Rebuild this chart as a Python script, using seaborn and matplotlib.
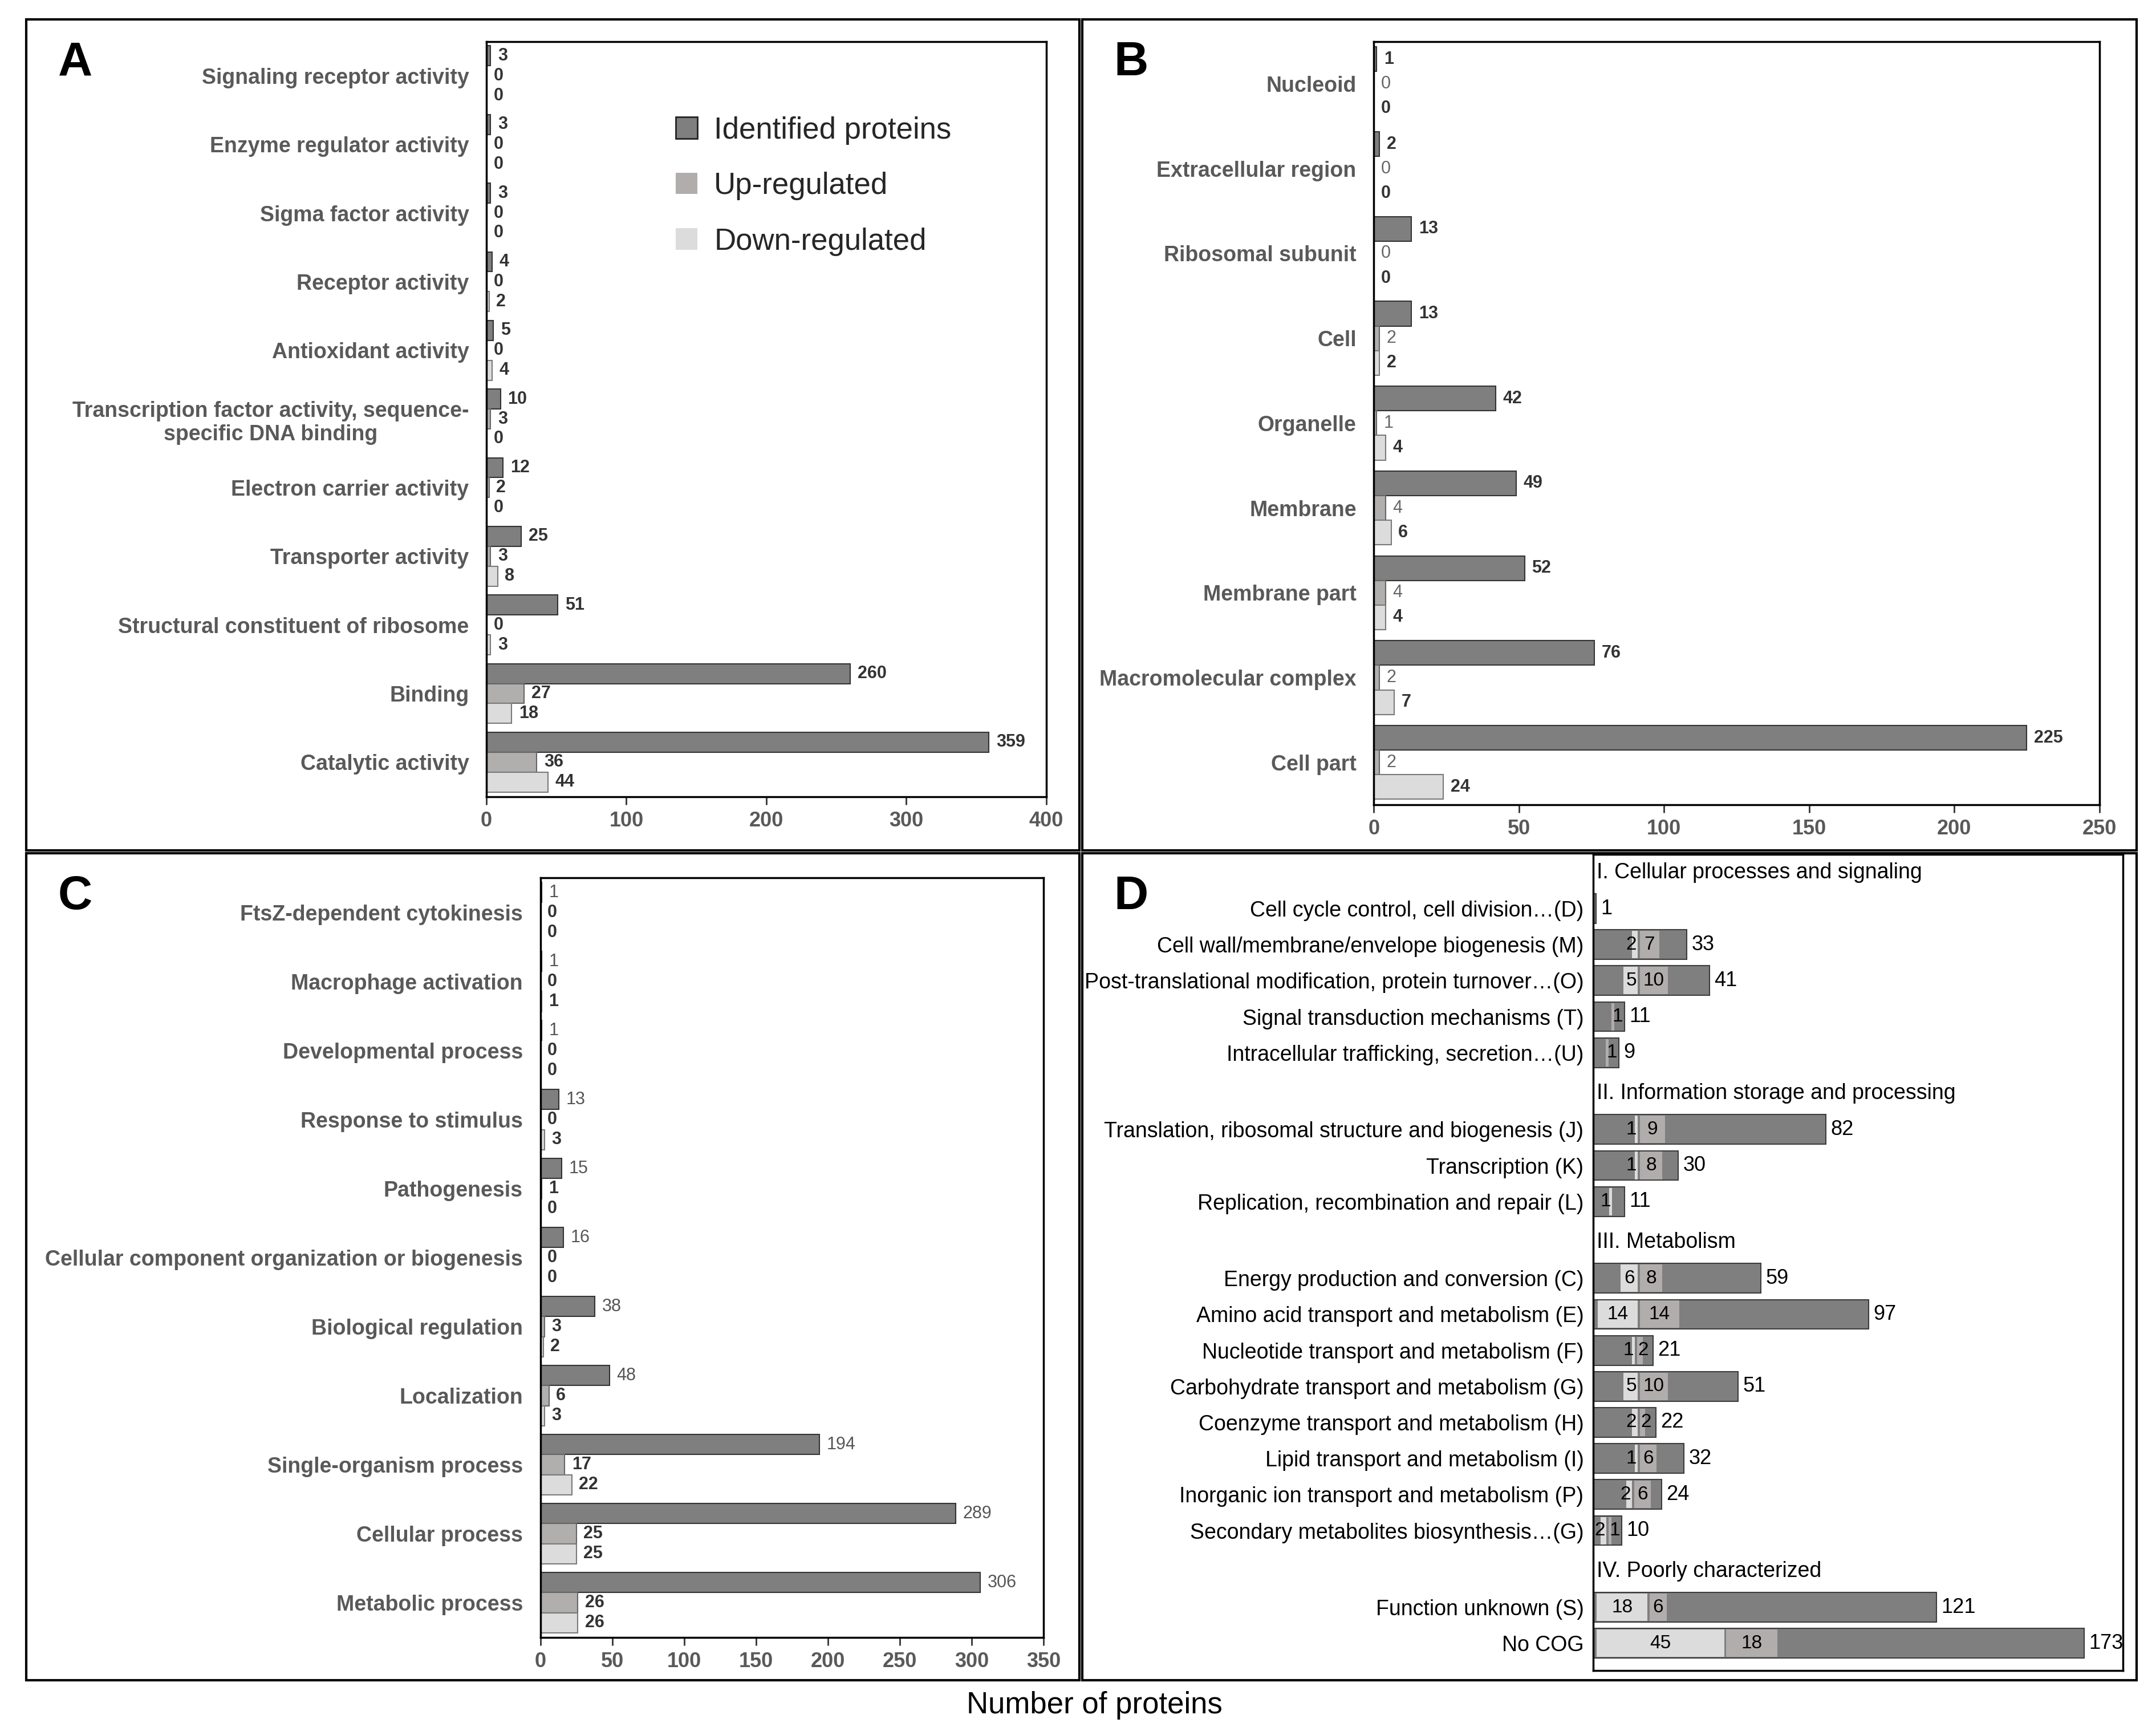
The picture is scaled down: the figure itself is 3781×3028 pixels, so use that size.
import matplotlib
matplotlib.use('Agg')
import matplotlib.pyplot as plt
from matplotlib import font_manager
from matplotlib.patches import Patch, Rectangle
import numpy as np
import pandas as pd
import seaborn as sns

# ---- data ----
SERIES = ['Identified proteins', 'Up-regulated', 'Down-regulated']

cats_A = ['Signaling receptor activity', 'Enzyme regulator activity', 'Sigma factor activity',
          'Receptor activity', 'Antioxidant activity',
          'Transcription factor activity, sequence-\nspecific DNA binding',
          'Electron carrier activity', 'Transporter activity',
          'Structural constituent of ribosome', 'Binding', 'Catalytic activity']
ident_A = [3, 3, 3, 4, 5, 10, 12, 25, 51, 260, 359]
up_A = [0, 0, 0, 0, 0, 3, 2, 3, 0, 27, 36]
down_A = [0, 0, 0, 2, 4, 0, 0, 8, 3, 18, 44]

cats_B = ['Nucleoid', 'Extracellular region', 'Ribosomal subunit', 'Cell', 'Organelle',
          'Membrane', 'Membrane part', 'Macromolecular complex', 'Cell part']
ident_B = [1, 2, 13, 13, 42, 49, 52, 76, 225]
up_B = [0, 0, 0, 2, 1, 4, 4, 2, 2]
down_B = [0, 0, 0, 2, 4, 6, 4, 7, 24]

cats_C = ['FtsZ-dependent cytokinesis', 'Macrophage activation', 'Developmental process',
          'Response to stimulus', 'Pathogenesis',
          'Cellular component organization or biogenesis', 'Biological regulation',
          'Localization', 'Single-organism process', 'Cellular process', 'Metabolic process']
ident_C = [1, 1, 1, 13, 15, 16, 38, 48, 194, 289, 306]
up_C = [0, 0, 0, 0, 1, 0, 3, 6, 17, 25, 26]
down_C = [0, 1, 0, 3, 0, 0, 2, 3, 22, 25, 26]

cog_headers = ['I. Cellular processes and signaling', 'II. Information storage and processing',
               'III. Metabolism', 'IV. Poorly characterized']
cog_labels = ['Cell cycle control, cell division\u2026(D)', 'Cell wall/membrane/envelope biogenesis (M)',
              'Post-translational modification, protein turnover\u2026(O)',
              'Signal transduction mechanisms (T)', 'Intracellular trafficking, secretion\u2026(U)',
              'Translation, ribosomal structure and biogenesis (J)', 'Transcription (K)',
              'Replication, recombination and repair (L)',
              'Energy production and conversion (C)', 'Amino acid transport and metabolism (E)',
              'Nucleotide transport and metabolism (F)', 'Carbohydrate transport and metabolism (G)',
              'Coenzyme transport and metabolism (H)', 'Lipid transport and metabolism (I)',
              'Inorganic ion transport and metabolism (P)', 'Secondary metabolites biosynthesis\u2026(G)',
              'Function unknown (S)', 'No COG']
cog_group = [0, 0, 0, 0, 0, 1, 1, 1, 2, 2, 2, 2, 2, 2, 2, 2, 3, 3]
cog_total = [1, 33, 41, 11, 9, 82, 30, 11, 59, 97, 21, 51, 22, 32, 24, 10, 121, 173]
cog_down = [0, 2, 5, 0, 0, 1, 1, 1, 6, 14, 1, 5, 2, 1, 2, 2, 18, 45]
cog_up = [0, 7, 10, 1, 1, 9, 8, 0, 8, 14, 2, 10, 2, 6, 6, 1, 6, 18]

# ---- style ----
PALETTE = {'Identified proteins': '#7f7f7f', 'Up-regulated': '#b2adad', 'Down-regulated': '#dcdcdc'}
EDGES = ['#333333', '#666666', '#7a7a7a']
LABEL_GRAY = '#595959'

sns.set_theme(style='white')
plt.rcParams['font.family'] = ['Liberation Sans', 'DejaVu Sans']
available = {f.name for f in font_manager.fontManager.ttflist}
if 'Liberation Sans Narrow' in available:
    narrow, k = ['Liberation Sans Narrow', 'DejaVu Sans'], 1.22
else:
    narrow, k = ['Liberation Sans', 'DejaVu Sans'], 1.0

fig = plt.figure(figsize=(37.81, 30.28), dpi=100)
axA = fig.add_axes([0.2256, 0.5388, 0.2597, 0.4372])
axB = fig.add_axes([0.6372, 0.5340, 0.3365, 0.4420])
axC = fig.add_axes([0.2506, 0.0520, 0.2334, 0.4396])
axD = fig.add_axes([0.7390, 0.0326, 0.2456, 0.4726])


def go_panel(ax, cats, ident, up, down, xmax, xstep, weights, lblcolors):
    df = pd.DataFrame({'category': cats, SERIES[0]: ident, SERIES[1]: up, SERIES[2]: down})
    long = df.melt(id_vars='category', var_name='series', value_name='count')
    sns.barplot(data=long, y='category', x='count', hue='series', hue_order=SERIES,
                order=cats, orient='h', palette=PALETTE, width=0.87, errorbar=None,
                legend=False, ax=ax)
    for cont, ec, fw, fc in zip(ax.containers, EDGES, weights, lblcolors):
        for bar in cont:
            bar.set_edgecolor(ec)
            bar.set_linewidth(1.5)
        ax.bar_label(cont, padding=9, fontsize=22, fontweight=fw, color=fc)
    ax.set_xlim(0, xmax)
    ax.set_ylim(len(cats) - 0.5, -0.5)
    ax.set_xticks(np.arange(0, xmax + 1, xstep))
    ax.set_xlabel('')
    ax.set_ylabel('')
    ax.tick_params(axis='y', length=0, pad=22, labelsize=27, labelcolor=LABEL_GRAY)
    ax.tick_params(axis='x', length=10, width=2, pad=8, labelsize=26, labelcolor=LABEL_GRAY,
                   direction='out', bottom=True, color='#333333')
    for t in ax.get_yticklabels() + ax.get_xticklabels():
        t.set_fontweight('bold')
        t.set_multialignment('center')
    for s in ax.spines.values():
        s.set_color('black')
        s.set_linewidth(2.5)


go_panel(axA, cats_A, ident_A, up_A, down_A, 400, 100,
         ['bold', 'bold', 'bold'], ['#333333', '#333333', '#333333'])
go_panel(axB, cats_B, ident_B, up_B, down_B, 250, 50,
         ['bold', 'normal', 'bold'], ['#333333', '#666666', '#333333'])
go_panel(axC, cats_C, ident_C, up_C, down_C, 350, 50,
         ['normal', 'bold', 'bold'], ['#555555', '#333333', '#333333'])

handles = [Patch(facecolor=PALETTE[s], edgecolor=e, linewidth=ew)
           for s, e, ew in zip(SERIES, ['#222222', 'none', 'none'], [2, 0, 0])]
axA.legend(handles, SERIES, loc='upper left', bbox_to_anchor=(0.29, 0.937), frameon=False,
           fontsize=38, handlelength=0.72, handleheight=0.72, handletextpad=0.55,
           labelspacing=0.9)

# ---- panel D: COG classes ----
ypos, header_y = [], []
i = 0
for g in range(len(cog_headers)):
    header_y.append(i + 0.13 * g)
    i += 1
    for j, grp in enumerate(cog_group):
        if grp == g:
            ypos.append(i + 0.13 * g)
            i += 1
ypos = np.array(ypos)
total = np.array(cog_total, dtype=float)
down = np.array(cog_down, dtype=float)
up = np.array(cog_up, dtype=float)

# light (down) segment ends at a divider, the up segment starts there
divider = np.minimum(np.maximum(16, down + 1.5), total - up - 4)
h = 0.82
gap = 0.35
bars = axD.barh(ypos, total, height=h, color=PALETTE[SERIES[0]], edgecolor='#3c3c3c', linewidth=1.5)
axD.barh(ypos, down, left=divider - gap - down, height=h - 0.06,
         color=PALETTE[SERIES[2]], edgecolor='none')
axD.barh(ypos, up, left=divider + gap, height=h - 0.06,
         color=PALETTE[SERIES[1]], edgecolor='none')
seg_font = dict(va='center', fontsize=24 * k, family=narrow, color='black')
for y, d, u, dv in zip(ypos, down, up, divider):
    if d > 0:
        if d >= 6:
            axD.text(dv - gap - d / 2, y, f'{d:g}', ha='center', **seg_font)
        else:
            axD.text(dv - gap - 0.4, y, f'{d:g}', ha='right', **seg_font)
    if u > 0:
        if u >= 6:
            axD.text(dv + gap + u / 2, y, f'{u:g}', ha='center', **seg_font)
        else:
            axD.text(dv + gap + 0.4, y, f'{u:g}', ha='left', **seg_font)
axD.bar_label(bars, padding=6, fontsize=26 * k, family=narrow, color='black')
for hy, txt in zip(header_y, cog_headers):
    axD.text(1.2, hy, txt, ha='left', va='center', fontsize=27 * k, family=narrow, color='black')

axD.set_xlim(0, 186.6)
axD.set_ylim(22.15, -0.5)
axD.set_xticks([])
axD.set_yticks(ypos)
axD.set_yticklabels(cog_labels, family=narrow, fontsize=27 * k, color='black')
axD.tick_params(axis='y', length=0, pad=12)
for s in axD.spines.values():
    s.set_color('black')
    s.set_linewidth(2.5)

# ---- panel frames, letters and shared label ----
frames = [(0.0122, 0.5076, 0.5006, 0.9888), (0.5019, 0.5076, 0.9910, 0.9888),
          (0.0122, 0.0272, 0.5006, 0.5060), (0.5019, 0.0272, 0.9910, 0.5060)]
for x0, y0, x1, y1 in frames:
    fig.add_artist(Rectangle((x0, y0), x1 - x0, y1 - y0, transform=fig.transFigure,
                             fill=False, edgecolor='black', linewidth=3))
for letter, x, y in [('A', 0.027, 0.9636), ('B', 0.5167, 0.9636), ('C', 0.027, 0.481), ('D', 0.5167, 0.481)]:
    fig.text(x, y, letter, fontsize=60, fontweight='bold', ha='left', va='center', color='black')
fig.text(0.5077, 0.0125, 'Number of proteins', fontsize=38, ha='center', va='center', color='black')

fig.savefig('out.png', dpi=100)
